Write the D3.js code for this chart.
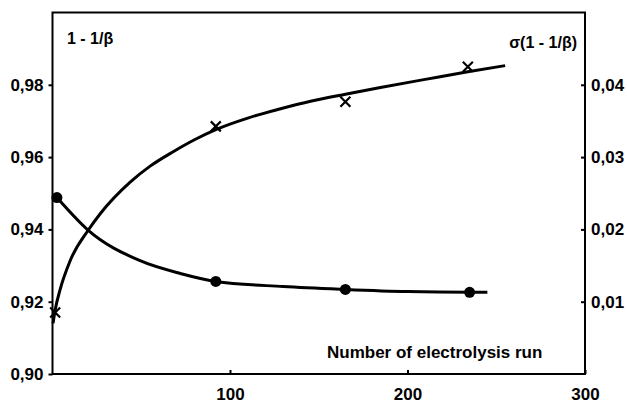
<!DOCTYPE html>
<html>
<head>
<meta charset="utf-8">
<script src="https://cdn.jsdelivr.net/npm/d3@7"></script>
<style>
  body { margin: 0; background: #fff; }
  text { font-family: "Liberation Sans", Arial, sans-serif; font-weight: bold; fill: #000; }
</style>
</head>
<body>
<svg width="627" height="404"></svg>
<script>
// measured points
var crossRuns = [1.5, 92, 165, 234],
    crossVals = [0.917, 0.9685, 0.9753, 0.985];
var dotRuns = [2.5, 92, 165, 235],
    dotVals = [0.0244, 0.0128, 0.0117, 0.0113];

// fitted curves
var fitTopRuns = [0.3, 1.5, 4.2, 10, 20, 27, 43.6, 55, 68, 80, 92, 110, 128, 146, 165, 184, 210, 234, 255],
    fitTopVals = [0.914, 0.9177, 0.9232, 0.9314, 0.9397, 0.9444, 0.953, 0.9575, 0.9615, 0.9648, 0.9676, 0.9708, 0.9733, 0.9755, 0.9774, 0.9792, 0.9815, 0.9836, 0.9853];
var fitLowRuns = [2.5, 20, 49, 72, 92, 130, 165, 200, 235, 245],
    fitLowVals = [0.0244, 0.0199, 0.0157, 0.0139, 0.0128, 0.0121, 0.0117, 0.0114, 0.0113, 0.0113];

var xTicks = [100, 200, 300],
    leftTicks = [0.90, 0.92, 0.94, 0.96, 0.98],
    rightTicks = [0.01, 0.02, 0.03, 0.04];

(function(){
var svg = d3.select("svg");
var x0 = 52.5, x1 = 585, y0 = 12.5, y1 = 374;

var x = d3.scaleLinear().domain([0, 300]).range([x0, x1]);
var yL = d3.scaleLinear().domain([0.90, 1.00]).range([y1, y0]);
var yR = d3.scaleLinear().domain([0, 0.05]).range([y1, y0]);

var comma = function(d){ return d3.format(".2f")(d).replace(".", ","); };

// frame
svg.append("rect")
	.attr("x", x0).attr("y", y0)
	.attr("width", x1 - x0).attr("height", y1 - y0)
	.attr("fill", "none").attr("stroke", "#000").attr("stroke-width", 2);

// left axis
var gL = svg.append("g").attr("transform", "translate(" + x0 + ",0)")
	.call(d3.axisLeft(yL).tickValues(leftTicks).tickSize(4).tickPadding(5).tickFormat(comma));
// right axis, ticks pointing left too
var gR = svg.append("g").attr("transform", "translate(" + x1 + ",0)")
	.call(d3.axisRight(yR).tickValues(rightTicks).tickSize(-4).tickPadding(6).tickFormat(comma));
// bottom axis, ticks inward
var gB = svg.append("g").attr("transform", "translate(0," + y1 + ")")
	.call(d3.axisBottom(x).tickValues(xTicks).tickSize(-4).tickPadding(14).tickFormat(d3.format("d")));

[gL, gR, gB].forEach(function(g){
	g.select(".domain").remove();
	g.selectAll(".tick line").attr("stroke", "#000").attr("stroke-width", 2);
	g.selectAll(".tick text").style("font-size", "17px").style("font-family", "Liberation Sans, Arial, sans-serif").style("font-weight", "bold");
});
gR.selectAll(".tick text").attr("x", 6);

// curves
var lineTop = d3.line().curve(d3.curveMonotoneX)
	.x(function(d, i){ return x(fitTopRuns[i]); })
	.y(function(d){ return yL(d); });
var lineLow = d3.line().curve(d3.curveMonotoneX)
	.x(function(d, i){ return x(fitLowRuns[i]); })
	.y(function(d){ return yR(d); });

svg.append("path").attr("d", lineTop(fitTopVals))
	.attr("fill", "none").attr("stroke", "#000").attr("stroke-width", 3);
svg.append("path").attr("d", lineLow(fitLowVals))
	.attr("fill", "none").attr("stroke", "#000").attr("stroke-width", 3);

// crosses
var cs = 5;
svg.selectAll(".cross").data(crossVals).enter().append("path")
	.attr("class", "cross")
	.attr("d", function(d, i){
		var cx = x(crossRuns[i]), cy = yL(d);
		return "M" + (cx - cs) + "," + (cy - cs) + "L" + (cx + cs) + "," + (cy + cs) +
			"M" + (cx + cs) + "," + (cy - cs) + "L" + (cx - cs) + "," + (cy + cs);
	})
	.attr("stroke", "#000").attr("stroke-width", 2.2).attr("fill", "none");

// dots
svg.selectAll(".dot").data(dotVals).enter().append("circle")
	.attr("class", "dot")
	.attr("cx", function(d, i){ return x(dotRuns[i]); })
	.attr("cy", function(d){ return yR(d); })
	.attr("r", 5.5).attr("fill", "#000");

// labels
svg.append("text").attr("x", 67).attr("y", 44).style("font-size", "16px").text("1 - 1/β");
svg.append("text").attr("x", 577).attr("y", 48).attr("text-anchor", "end").style("font-size", "16px").text("σ(1 - 1/β)");
svg.append("text").attr("x", 327).attr("y", 358).style("font-size", "17px").text("Number of electrolysis run");
})();
</script>
</body>
</html>
